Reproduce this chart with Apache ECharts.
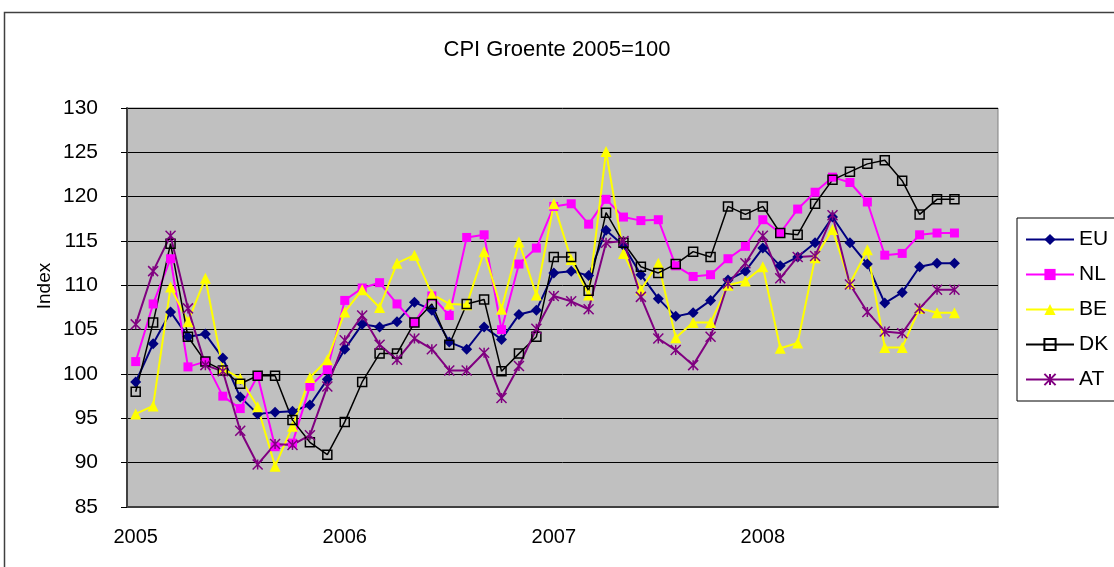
<!DOCTYPE html>
<html>
<head>
<meta charset="utf-8">
<script src="https://cdn.jsdelivr.net/npm/echarts@6/dist/echarts.min.js"></script>
<style>
  html, body { margin: 0; padding: 0; background: #fff; }
  #chart { width: 1114px; height: 567px; }
</style>
</head>
<body>
<div id="chart"></div>
<script>
// monthly categories, Jan 2005 .. Dec 2008, plus two empty slots at the end
const categories = [
  '2005-01','2005-02','2005-03','2005-04','2005-05','2005-06','2005-07','2005-08','2005-09','2005-10','2005-11','2005-12',
  '2006-01','2006-02','2006-03','2006-04','2006-05','2006-06','2006-07','2006-08','2006-09','2006-10','2006-11','2006-12',
  '2007-01','2007-02','2007-03','2007-04','2007-05','2007-06','2007-07','2007-08','2007-09','2007-10','2007-11','2007-12',
  '2008-01','2008-02','2008-03','2008-04','2008-05','2008-06','2008-07','2008-08','2008-09','2008-10','2008-11','2008-12',
  '2009-01','2009-02'
]
const lastDataIndex = 47

const euValues = [
  99.1, 103.4, 107.0, 104.2, 104.5, 101.8, 97.4, 95.5, 95.7, 95.8, 96.5, 99.4,
  102.8, 105.6, 105.3, 105.9, 108.1, 107.2, 103.6, 102.8, 105.3, 103.9, 106.7, 107.2,
  111.4, 111.6, 111.1, 116.2, 114.5, 111.2, 108.5, 106.5, 106.9, 108.3, 110.6, 111.6,
  114.2, 112.2, 113.2, 114.8, 117.7, 114.8, 112.4, 108.0, 109.2, 112.1, 112.5, 112.5
]
const nlValues = [
  101.4, 107.9, 113.0, 100.8, 101.4, 97.5, 96.1, 99.8, 91.8, 92.2, 98.6, 100.5,
  108.3, 109.7, 110.3, 107.9, 105.8, 108.8, 106.6, 115.4, 115.7, 105.0, 112.4, 114.2,
  118.9, 119.2, 116.9, 119.7, 117.7, 117.3, 117.4, 112.2, 111.0, 111.2, 113.0, 114.4,
  117.4, 115.9, 118.6, 120.5, 122.2, 121.6, 119.4, 113.4, 113.6, 115.7, 115.9, 115.9
]
const beValues = [
  95.5, 96.4, 109.8, 105.9, 110.8, 100.6, 99.5, 96.3, 89.6, 94.1, 99.6, 101.6,
  107.0, 109.5, 107.5, 112.5, 113.4, 109.0, 107.9, 107.8, 113.8, 107.3, 114.9, 108.9,
  119.2, 112.9, 108.9, 125.1, 113.6, 109.5, 112.5, 104.1, 105.8, 105.8, 110.0, 110.5,
  112.1, 102.9, 103.5, 113.1, 116.3, 110.2, 114.0, 103.0, 103.0, 107.4, 106.9, 106.9
]
const dkValues = [
  98.0, 105.8, 114.7, 104.2, 101.4, 100.4, 98.9, 99.8, 99.8, 94.8, 92.3, 90.9,
  94.6, 99.1, 102.3, 102.3, 105.8, 107.9, 103.3, 107.9, 108.4, 100.3, 102.3, 104.2,
  113.2, 113.2, 109.4, 118.2, 114.8, 112.1, 111.4, 112.4, 113.8, 113.2, 118.9, 118.0,
  118.9, 115.9, 115.7, 119.2, 121.9, 122.8, 123.7, 124.1, 121.8, 118.0, 119.7, 119.7
]
const atValues = [
  105.6, 111.6, 115.6, 107.4, 101.0, 100.3, 93.6, 89.8, 92.1, 92.0, 93.1, 98.6,
  103.8, 106.6, 103.3, 101.6, 104.0, 102.8, 100.4, 100.4, 102.4, 97.3, 100.9, 105.1,
  108.8, 108.2, 107.3, 114.8, 115.0, 108.7, 104.0, 102.7, 101.0, 104.2, 110.2, 112.5,
  115.6, 110.8, 113.2, 113.3, 117.9, 110.1, 107.0, 104.8, 104.6, 107.4, 109.5, 109.5
]

const yMin = 85
const yMax = 130
const yStep = 5

const font = '"Liberation Sans", Arial, sans-serif'
const asterisk = 'path://M0,0L10,10M10,0L0,10M5,0L5,10'

function lineSeries(name, values, color, symbol, size, extra) {
  return Object.assign({
    name: name,
    type: 'line',
    data: values,
    symbol: symbol,
    symbolSize: size,
    showSymbol: true,
    lineStyle: { color: color, width: 2 },
    itemStyle: { color: color },
    emphasis: { disabled: true },
    animation: false,
  }, extra || {})
}

const chart = echarts.init(document.getElementById('chart'))
chart.setOption({
  backgroundColor: '#fff',
  textStyle: { fontFamily: font },
  title: {
    text: 'CPI Groente 2005=100',
    left: 'center',
    top: 34,
    textStyle: { fontFamily: font, fontSize: 22, fontWeight: 'normal', color: '#000' },
  },
  graphic: [
    {
      type: 'rect',
      shape: { x: 4.5, y: 12.5, width: 1200, height: 700 },
      style: { fill: 'none', stroke: '#404040', lineWidth: 1.5 },
      silent: true,
      z: -1,
    },
    {
      type: 'text',
      x: 45,
      y: 286,
      rotation: Math.PI / 2,
      style: { text: 'Index', fontFamily: font, fontSize: 19, fill: '#000', align: 'center', verticalAlign: 'middle' },
    },
  ],
  legend: {
    orient: 'vertical',
    left: 1017,
    top: 218,
    padding: [11, 8, 11, 8],
    itemWidth: 48,
    itemHeight: 14,
    itemGap: 14,
    borderColor: '#000',
    borderWidth: 1,
    textStyle: { fontFamily: font, fontSize: 21, color: '#000' },
    data: ['EU', 'NL', 'BE', 'DK', 'AT'],
  },
  grid: {
    left: 127,
    right: 116,
    top: 108,
    bottom: 60,
    show: true,
    backgroundColor: '#C0C0C0',
    borderColor: '#808080',
    borderWidth: 1,
  },
  xAxis: {
    type: 'category',
    data: categories,
    boundaryGap: true,
    axisLine: { lineStyle: { color: '#404040', width: 2 } },
    axisTick: { interval: 0, length: 6, lineStyle: { color: '#000' } },
    axisLabel: {
      interval: 0,
      margin: 20,
      fontFamily: font,
      fontSize: 20,
      color: '#000',
      formatter: (val, idx) => (idx <= lastDataIndex && val.endsWith('-01') ? val.slice(0, 4) : ''),
    },
    splitLine: { show: false },
  },
  yAxis: {
    type: 'value',
    min: yMin,
    max: yMax,
    interval: yStep,
    axisLine: { show: true, lineStyle: { color: '#404040', width: 2 } },
    axisTick: { show: true, length: 6, lineStyle: { color: '#000' } },
    axisLabel: { margin: 29, fontFamily: font, fontSize: 21, color: '#000' },
    splitLine: { show: true, lineStyle: { color: '#000', width: 1 } },
  },
  series: [
    lineSeries('EU', euValues, '#000080', 'diamond', 11),
    lineSeries('NL', nlValues, '#FF00FF', 'rect', 9),
    lineSeries('BE', beValues, '#FFFF00', 'triangle', 11),
    lineSeries('DK', dkValues, '#000000', 'rect', 9, {
      lineStyle: { color: '#000', width: 1.5 },
      itemStyle: { color: 'rgba(0,0,0,0)', borderColor: '#000', borderWidth: 1.5 },
    }),
    lineSeries('AT', atValues, '#800080', asterisk, 10, {
      itemStyle: { color: 'rgba(0,0,0,0)', borderColor: '#800080', borderWidth: 1.5 },
    }),
  ],
})

window.addEventListener('resize', () => chart.resize())
</script>
</body>
</html>
